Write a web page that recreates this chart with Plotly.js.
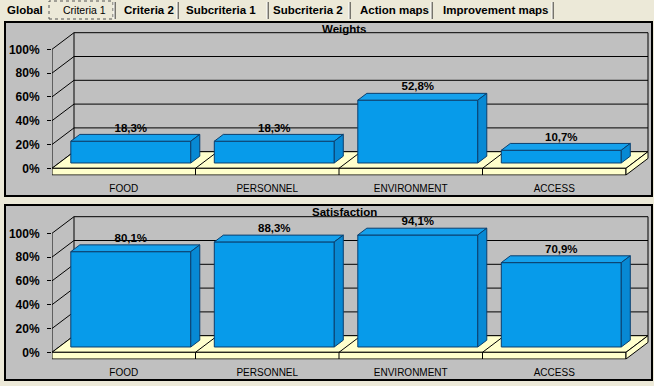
<!DOCTYPE html>
<html><head><meta charset="utf-8">
<script src="https://cdn.plot.ly/plotly-3.0.1.min.js"></script>
<style>html,body{margin:0;padding:0;background:#ECE9D8;overflow:hidden}#chart{width:654px;height:386px}</style>
</head><body><div id="chart"></div>
<script>
const categories = ['FOOD', 'PERSONNEL', 'ENVIRONMENT', 'ACCESS'];
const weights = [18.3, 18.3, 52.8, 10.7];
const satisfaction = [80.1, 88.3, 94.1, 70.9];
const yTickVals = [0, 20, 40, 60, 80, 100];
const yTickText = ['0%', '20%', '40%', '60%', '80%', '100%'];
const tabLabels = ['Global', 'Criteria 1', 'Criteria 2', 'Subcriteria 1', 'Subcriteria 2', 'Action maps', 'Improvement maps'];

const W = 654, H = 386;
const FONT = 'Liberation Sans, Arial, sans-serif';
const G = {
  frontLeft: 52, catW: 143.5, plotRight: 651,
  unitY: 1.19, depthX: 22, depthY: 16.6, floorT: 6.7,
  barFront: 0.32, barBack: 0.73, barW: 0.836
};
const COL = {
  page: '#ECE9D8', panel: '#C0C0C0', floor: '#FFFFCC',
  barFront: '#079BEA', barTop: '#15A1EC', barSide: '#0789D4', barLine: '#0B3F6E'
};
const panels = [
  {title: 'Weights', values: weights, zeroPx: 168.3, box: [5, 22, 652, 196], titleY: 29.3},
  {title: 'Satisfaction', values: satisfaction, zeroPx: 352.3, box: [5, 205, 652, 380], titleY: 212.3}
];
const tabX = [7, 63, 124, 186, 273, 360, 443];
const sepX = [115, 178, 268, 350, 432, 553];

const px2x = p => p / W, px2y = p => 1 - p / H;
const traces = [], shapes = [], annotations = [];
const layout = {
  width: W, height: H, margin: {l: 0, r: 0, t: 0, b: 0},
  paper_bgcolor: COL.page, plot_bgcolor: 'rgba(0,0,0,0)',
  showlegend: false, hovermode: false, font: {family: FONT, color: '#000'},
  shapes, annotations
};

panels.forEach((p, k) => {
  const xa = k === 0 ? 'x' : 'x2', ya = k === 0 ? 'y' : 'y2';
  const n = p.values.length;
  const Dx = G.depthX / G.catW, Dy = G.depthY / G.unitY, T = G.floorT / G.unitY;
  const topPx = p.zeroPx - (100 + Dy) * G.unitY - 4;
  const botPx = p.zeroPx + G.floorT + 0.6;
  const yMax = yTickVals[yTickVals.length - 1];

  shapes.push({type: 'rect', xref: 'paper', yref: 'paper', layer: 'below',
    x0: px2x(p.box[0]), x1: px2x(p.box[2]), y0: px2y(p.box[3]), y1: px2y(p.box[1]),
    fillcolor: COL.panel, line: {color: '#000', width: 2}});

  const ln = (x0, y0, x1, y1) => shapes.push({type: 'line', xref: xa, yref: ya, layer: 'below',
    x0, y0, x1, y1, line: {color: '#000', width: 1}});
  const poly = (pts, fill) => shapes.push({type: 'path', xref: xa, yref: ya, layer: 'below',
    path: 'M' + pts.map(q => q[0] + ',' + q[1]).join(' L') + ' Z',
    fillcolor: fill, line: {color: '#000', width: 1}});

  yTickVals.forEach(t => {
    ln(Dx, t + Dy, n + Dx, t + Dy);
    ln(0, t, Dx, t + Dy);
  });
  ln(Dx, Dy, Dx, yMax + Dy);
  ln(n + Dx, Dy, n + Dx, yMax + Dy);
  ln(0, -T, 0, yMax);

  poly([[0, 0], [n, 0], [n + Dx, Dy], [Dx, Dy]], COL.floor);
  poly([[0, -T], [n, -T], [n, 0], [0, 0]], COL.floor);
  poly([[n, -T], [n, 0], [n + Dx, Dy], [n + Dx, Dy - T]], COL.floor);
  for (let i = 1; i < n; i++) {
    ln(i, -T, i, 0);
    ln(i, 0, i + Dx, Dy);
  }

  const xb = p.values.map((v, i) => i + 0.5 + G.barFront * Dx);
  const base = p.values.map(() => G.barFront * Dy);
  traces.push({type: 'bar', x: xb, y: p.values, base: base, width: G.barW,
    marker: {color: COL.barFront, line: {color: COL.barLine, width: 1}},
    xaxis: xa, yaxis: ya, hoverinfo: 'skip'});
  const bdx = (G.barBack - G.barFront) * Dx, bdy = (G.barBack - G.barFront) * Dy;
  p.values.forEach((v, i) => {
    const x0 = xb[i] - G.barW / 2, x1 = xb[i] + G.barW / 2, b = base[i], top = b + v;
    traces.push({type: 'scatter', mode: 'lines', fill: 'toself', fillcolor: COL.barTop,
      x: [x0, x1, x1 + bdx, x0 + bdx, x0], y: [top, top, top + bdy, top + bdy, top],
      line: {color: COL.barLine, width: 1}, xaxis: xa, yaxis: ya, hoverinfo: 'skip'});
    traces.push({type: 'scatter', mode: 'lines', fill: 'toself', fillcolor: COL.barSide,
      x: [x1, x1, x1 + bdx, x1 + bdx, x1], y: [b, top, top + bdy, b + bdy, b],
      line: {color: COL.barLine, width: 1}, xaxis: xa, yaxis: ya, hoverinfo: 'skip'});
  });
  traces.push({type: 'scatter', mode: 'text', x: xb,
    y: p.values.map((v, i) => base[i] + v + bdy),
    text: p.values.map(v => v.toFixed(1).replace('.', ',') + '%'),
    textposition: 'top center', cliponaxis: false,
    textfont: {family: FONT, size: 11.5, color: '#000', weight: 'bold'},
    xaxis: xa, yaxis: ya, hoverinfo: 'skip'});

  const sfx = k === 0 ? '' : '2';
  layout['xaxis' + sfx] = {
    domain: [px2x(G.frontLeft), px2x(G.plotRight)], anchor: ya,
    range: [0, (G.plotRight - G.frontLeft) / G.catW],
    showgrid: false, zeroline: false, showline: false, ticks: '',
    tickvals: categories.map((c, i) => i + 0.5), ticktext: categories,
    tickfont: {family: FONT, size: 10, color: '#000'}, ticklabelstandoff: 5, fixedrange: true
  };
  layout['yaxis' + sfx] = {
    domain: [px2y(botPx), px2y(topPx)], anchor: xa,
    range: [(p.zeroPx - botPx) / G.unitY, (p.zeroPx - topPx) / G.unitY],
    showgrid: false, zeroline: false, showline: false,
    tickvals: yTickVals, ticktext: yTickText, ticks: 'outside', ticklen: 4,
    tickcolor: '#000', tickwidth: 1, ticklabelstandoff: 5,
    tickfont: {family: FONT, size: 12, color: '#000', weight: 'bold'}, fixedrange: true
  };

  annotations.push({xref: 'paper', yref: 'paper', x: px2x(344), y: px2y(p.titleY),
    xanchor: 'center', yanchor: 'middle', showarrow: false, text: p.title,
    font: {family: FONT, size: 11.5, color: '#000', weight: 'bold'}});
});

tabLabels.forEach((t, i) => {
  const sel = i === 1;
  annotations.push({xref: 'paper', yref: 'paper', x: px2x(tabX[i] - 2), y: px2y(10),
    xanchor: 'left', yanchor: 'middle', showarrow: false, text: t,
    font: {family: FONT, size: sel ? 10.5 : 11.5, color: '#000', weight: sel ? 'normal' : 'bold'}});
});
shapes.push({type: 'rect', xref: 'paper', yref: 'paper', x0: px2x(49), x1: px2x(113),
  y0: px2y(19), y1: px2y(1), line: {color: '#555', width: 1, dash: 'dot'}});
sepX.forEach(s => {
  shapes.push({type: 'line', xref: 'paper', yref: 'paper', x0: px2x(s), x1: px2x(s),
    y0: px2y(19), y1: px2y(2), line: {color: '#000', width: 1}});
  shapes.push({type: 'line', xref: 'paper', yref: 'paper', x0: px2x(s - 1), x1: px2x(s - 1),
    y0: px2y(19), y1: px2y(2), line: {color: '#FFFFFF', width: 1}});
});

Plotly.newPlot('chart', traces, layout, {staticPlot: true, displayModeBar: false});
</script></body></html>
